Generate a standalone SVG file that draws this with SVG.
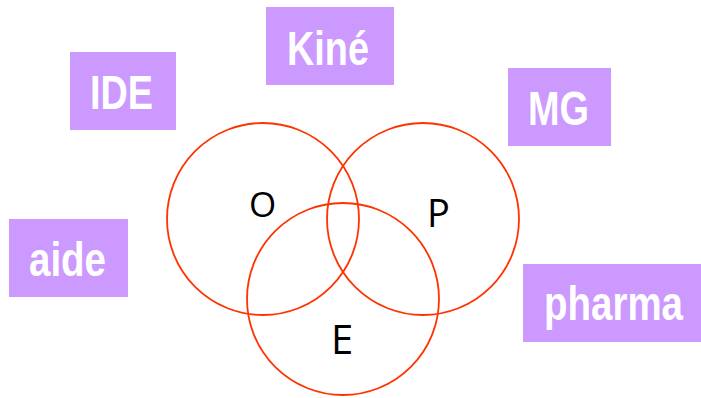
<svg xmlns="http://www.w3.org/2000/svg" width="701" height="398" viewBox="0 0 701 398">
<style>
.box{fill:#cc99ff;}
.lbl{fill:#ffffff;font-family:"Liberation Sans Narrow","Liberation Sans",Arial,sans-serif;font-weight:bold;font-size:48px;text-anchor:middle;}
.ring{fill:none;stroke:#ff3300;stroke-width:1.8;}
.set{fill:#000000;font-family:"Open Sans","Liberation Sans",sans-serif;text-anchor:middle;}
</style>
<rect width="701" height="398" fill="#ffffff"/>
<g id="kine"><rect class="box" x="266" y="7" width="128" height="78"/><text class="lbl" x="328" y="65" textLength="82" lengthAdjust="spacingAndGlyphs">Kiné</text></g>
<g id="ide"><rect class="box" x="70" y="52" width="106" height="78"/><text class="lbl" x="121.5" y="109" textLength="63" lengthAdjust="spacingAndGlyphs">IDE</text></g>
<g id="mg"><rect class="box" x="508" y="68" width="103" height="78"/><text class="lbl" x="558.5" y="125" textLength="61" lengthAdjust="spacingAndGlyphs">MG</text></g>
<g id="aide"><rect class="box" x="9" y="219" width="119" height="78"/><text class="lbl" x="67.5" y="276" textLength="77" lengthAdjust="spacingAndGlyphs">aide</text></g>
<g id="pharma"><rect class="box" x="523" y="264" width="178" height="78"/><text class="lbl" x="613.5" y="320" textLength="139" lengthAdjust="spacingAndGlyphs">pharma</text></g>
<g id="circles">
<g id="setO"><circle class="ring" cx="263" cy="219" r="96"/><text class="set" x="262.5" y="217" font-size="35">O</text></g>
<g id="setP"><circle class="ring" cx="423" cy="219" r="96"/><text class="set" x="438.5" y="227" font-size="38">P</text></g>
<g id="setE"><circle class="ring" cx="343" cy="299" r="96"/><text class="set" x="342" y="354" font-size="40">E</text></g>
</g>
</svg>
